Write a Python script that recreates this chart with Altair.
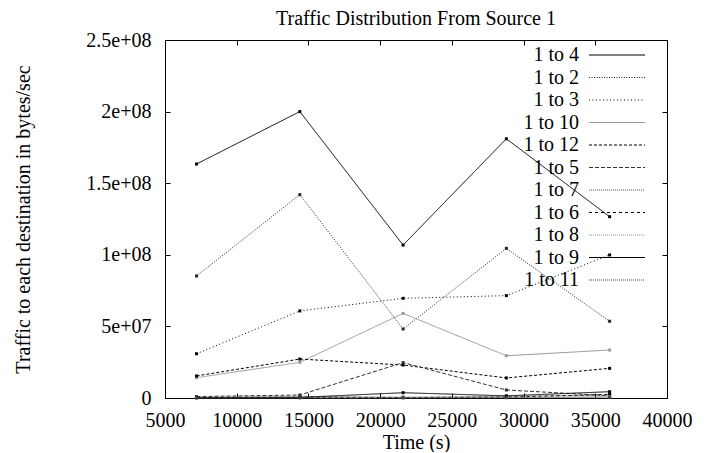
import altair as alt
import pandas as pd

times = [7200, 14400, 21600, 28800, 36000]
series_names = ["1 to 4", "1 to 2", "1 to 3", "1 to 10", "1 to 12", "1 to 5",
                "1 to 7", "1 to 6", "1 to 8", "1 to 9", "1 to 11"]

v_1_4 = [1.634e8, 2.00e8, 1.068e8, 1.81e8, 1.266e8]
v_1_2 = [8.52e7, 1.42e8, 4.82e7, 1.045e8, 5.36e7]
v_1_3 = [3.09e7, 6.08e7, 6.96e7, 7.15e7, 9.99e7]
v_1_10 = [1.42e7, 2.49e7, 5.91e7, 2.95e7, 3.35e7]
v_1_12 = [1.54e7, 2.72e7, 2.30e7, 1.40e7, 2.07e7]
v_1_5 = [1.0e6, 2.1e6, 2.47e7, 5.6e6, 1.6e6]
v_1_7 = [5.0e5, 1.2e6, 6.0e5, 1.2e6, 2.0e6]
v_1_6 = [3.0e5, 5.0e5, 3.0e5, 6.0e5, 2.5e6]
v_1_8 = [1.0e5, 2.0e5, 2.0e5, 4.0e5, 1.0e6]
v_1_9 = [2.0e5, 4.0e5, 3.7e6, 1.5e6, 4.4e6]
v_1_11 = [1.0e5, 1.0e5, 1.0e5, 2.0e5, 5.0e5]

series_values = [v_1_4, v_1_2, v_1_3, v_1_10, v_1_12, v_1_5,
                 v_1_7, v_1_6, v_1_8, v_1_9, v_1_11]

colors = ["#000000", "#222222", "#000000", "#999999", "#000000", "#333333",
          "#555555", "#000000", "#888888", "#000000", "#444444"]
dashes = [[1, 0], [1, 1.5], [1, 2.5], [1, 0], [3, 2], [4, 2],
          [1, 1], [3, 3], [1, 1], [1, 0], [1, 1]]

x_ticks = [5000, 10000, 15000, 20000, 25000, 30000, 35000, 40000]
y_ticks = [0, 5e7, 1e8, 1.5e8, 2e8, 2.5e8]

rows = []
for name, vals in zip(series_names, series_values):
    for t, v in zip(times, vals):
        rows.append({"series": name, "time": t, "traffic": v})
df = pd.DataFrame(rows)

font = "Liberation Serif"
inward = {"expr": "-5"}

x_scale = alt.Scale(domain=[5000, 40000], nice=False, zero=False)
y_scale = alt.Scale(domain=[0, 2.5e8], nice=False)

legend = alt.Legend(
    title=None, orient="none", legendX=442, legendY=5,
    symbolType="M-7,0H7", symbolSize=64, symbolStrokeWidth=1,
    labelAlign="right", labelOffset={"expr": "-48"}, labelFont=font, labelFontSize=20,
    labelColor="black", labelLimit=0, padding=0, rowPadding=2.5,
)

lines = alt.Chart(df).mark_line(
    strokeWidth=1,
    point=alt.OverlayMarkDef(shape="square", size=9, filled=True, opacity=1),
).encode(
    x=alt.X("time:Q", title="Time (s)", scale=x_scale,
            axis=alt.Axis(values=x_ticks, format="d", labelFlush=False,
                          ticks=True, tickSize=inward,
                          labelPadding=17, titlePadding=2)),
    y=alt.Y("traffic:Q", title="Traffic to each destination in bytes/sec", scale=y_scale,
            axis=alt.Axis(values=y_ticks, ticks=True, tickSize=inward,
                          labelPadding=19, titlePadding=52,
                          labelExpr="datum.value == 0 ? '0' : replace(format(datum.value, '~e'), regexp('e\\\\+(\\\\d)$'), 'e+0$1')")),
    color=alt.Color("series:N", scale=alt.Scale(domain=series_names, range=colors),
                    sort=series_names, legend=legend),
    strokeDash=alt.StrokeDash("series:N", scale=alt.Scale(domain=series_names, range=dashes),
                              sort=series_names, legend=legend),
)

mirror = alt.Chart(df).mark_point(opacity=0).encode(
    x=alt.X("time:Q", scale=x_scale,
            axis=alt.Axis(orient="top", values=x_ticks, labels=False, title=None,
                          ticks=True, tickSize=inward)),
    y=alt.Y("traffic:Q", scale=y_scale,
            axis=alt.Axis(orient="right", values=y_ticks, labels=False, title=None,
                          ticks=True, tickSize=inward)),
)

chart = alt.layer(lines, mirror).resolve_axis(
    x="independent", y="independent"
).properties(
    width=502, height=358,
    padding={"left": 5, "top": 1, "right": 5, "bottom": 0},
    title=alt.Title("Traffic Distribution From Source 1", font=font, fontSize=20,
                    fontWeight="normal", color="black", offset=1),
).configure_axis(
    labelFont=font, labelFontSize=20, labelColor="black",
    titleFont=font, titleFontSize=20, titleFontWeight="normal", titleColor="black",
    tickColor="black", tickWidth=1, domain=False, grid=False,
).configure_view(
    stroke="black", strokeWidth=1,
)

chart.save("out.html", embed_options={"renderer": "svg", "actions": False})
